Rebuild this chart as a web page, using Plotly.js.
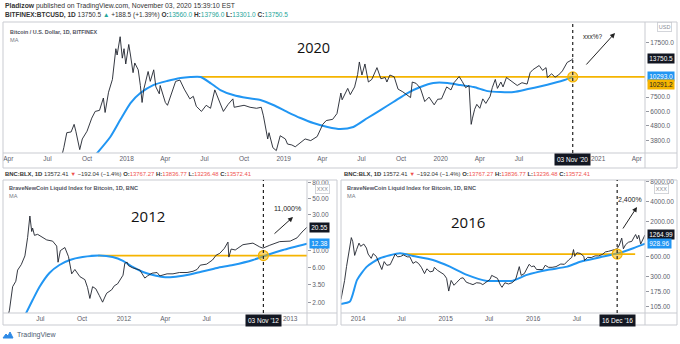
<!DOCTYPE html>
<html><head><meta charset="utf-8">
<script src="https://cdn.plot.ly/plotly-3.0.1.min.js"></script>
<style>html,body{margin:0;padding:0;background:#fff}#chart{width:680px;height:344px}</style>
</head><body><div id="chart"></div>
<script>
// ---------- DATA ----------
const btcDates = ['2017-07-20','2017-08-01','2017-08-08','2017-08-15','2017-08-25','2017-09-01','2017-09-05','2017-09-14','2017-09-20','2017-10-01','2017-10-12','2017-10-20','2017-10-30','2017-11-08','2017-11-12','2017-11-20','2017-11-29','2017-12-07','2017-12-10','2017-12-17','2017-12-22','2017-12-26','2017-12-30','2018-01-06','2018-01-10','2018-01-16','2018-01-20','2018-01-28','2018-02-02','2018-02-06','2018-02-10','2018-02-20','2018-02-25','2018-03-05','2018-03-10','2018-03-18','2018-03-20','2018-04-01','2018-04-06','2018-04-15','2018-04-25','2018-05-05','2018-05-15','2018-05-28','2018-06-05','2018-06-12','2018-06-24','2018-07-05','2018-07-15','2018-07-25','2018-08-05','2018-08-14','2018-08-25','2018-09-05','2018-09-08','2018-09-20','2018-10-01','2018-10-15','2018-10-30','2018-11-10','2018-11-15','2018-11-25','2018-11-28','2018-12-07','2018-12-15','2018-12-24','2019-01-05','2019-01-10','2019-01-20','2019-01-28','2019-02-08','2019-02-20','2019-03-05','2019-03-20','2019-04-02','2019-04-10','2019-04-25','2019-05-05','2019-05-14','2019-05-17','2019-05-30','2019-06-05','2019-06-15','2019-06-22','2019-06-26','2019-07-02','2019-07-09','2019-07-17','2019-07-25','2019-08-06','2019-08-15','2019-08-25','2019-08-29','2019-09-05','2019-09-15','2019-09-24','2019-10-05','2019-10-23','2019-10-27','2019-11-05','2019-11-15','2019-11-25','2019-12-05','2019-12-17','2019-12-25','2020-01-03','2020-01-15','2020-01-25','2020-02-01','2020-02-13','2020-02-20','2020-02-28','2020-03-07','2020-03-12','2020-03-15','2020-03-20','2020-03-25','2020-04-01','2020-04-08','2020-04-15','2020-04-25','2020-04-30','2020-05-07','2020-05-12','2020-05-20','2020-05-25','2020-06-02','2020-06-10','2020-06-20','2020-06-27','2020-07-08','2020-07-20','2020-07-27','2020-08-02','2020-08-17','2020-08-25','2020-09-02','2020-09-05','2020-09-15','2020-09-23','2020-10-01','2020-10-10','2020-10-21','2020-10-25','2020-10-28','2020-11-02','2020-11-03'];
const btcClose = [2300,2800,3400,4300,4350,4900,4400,3300,3900,4400,5400,6000,6100,7400,5900,8100,9900,16000,14500,19300,13800,16000,12600,17100,14500,11000,12800,11500,9000,6900,8500,11200,9600,11500,8800,7900,9000,6900,6600,8000,9600,9800,8500,7300,7600,6500,6000,6600,6300,8400,7000,6000,6700,7300,6400,6500,6600,6400,6300,6400,5600,3900,4300,3400,3250,4100,3900,3600,3550,3450,3650,3900,3800,4050,4900,5200,5300,5800,8000,7200,8600,7800,8800,10700,13000,10600,12600,9500,9900,11900,10000,10200,9500,10600,10300,8500,8150,7450,9500,9300,8600,7000,7500,6650,7250,7300,8800,8400,9400,10350,9600,8700,9000,4900,5400,6200,6700,6300,7300,6800,7600,8700,9900,8600,9500,8800,10200,9800,9300,9000,9400,9200,11000,11500,12300,11400,11900,10200,10800,10250,10600,11300,12900,13100,13400,13500,13750.5];
const btcMaDates = ['2017-10-15','2017-11-24','2017-12-17','2018-01-10','2018-02-02','2018-03-04','2018-04-05','2018-05-06','2018-05-29','2018-06-22','2018-07-15','2018-08-07','2018-09-06','2018-10-09','2018-11-08','2018-12-08','2019-01-10','2019-02-09','2019-03-11','2019-04-13','2019-05-13','2019-06-12','2019-07-15','2019-08-14','2019-09-13','2019-10-16','2019-11-15','2019-12-15','2020-01-17','2020-02-16','2020-03-18','2020-04-19','2020-05-19','2020-06-19','2020-07-22','2020-08-21','2020-09-20','2020-10-15','2020-11-03'];
const btcMa = [2900,4020,5240,6840,8000,9060,9650,10120,10280,10280,9350,8380,7750,7390,7170,6630,5940,5410,5000,4700,4550,4700,5410,6130,6950,8000,8790,9360,9360,9060,8790,8240,8120,8120,8510,8900,9350,9800,10293];
const btcLevelDates = ['2018-06-21','2021-04-20'];
const btcLevel = 10291.2;
const btcMarkDate = '2020-11-03';

const b12Dates = ['2011-04-15','2011-04-24','2011-05-01','2011-05-08','2011-05-12','2011-05-20','2011-05-28','2011-06-03','2011-06-08','2011-06-10','2011-06-12','2011-06-14','2011-06-18','2011-06-25','2011-07-05','2011-07-15','2011-07-28','2011-08-06','2011-08-09','2011-08-14','2011-08-24','2011-09-01','2011-09-08','2011-09-15','2011-09-26','2011-10-07','2011-10-13','2011-10-18','2011-10-24','2011-10-31','2011-11-08','2011-11-15','2011-11-20','2011-11-24','2011-12-05','2011-12-11','2011-12-18','2011-12-22','2011-12-30','2012-01-03','2012-01-08','2012-01-11','2012-01-20','2012-02-05','2012-02-16','2012-02-22','2012-03-03','2012-03-14','2012-03-20','2012-04-05','2012-04-18','2012-05-02','2012-05-19','2012-06-01','2012-06-10','2012-06-17','2012-07-01','2012-07-14','2012-07-22','2012-07-30','2012-08-09','2012-08-17','2012-08-19','2012-08-24','2012-09-02','2012-09-19','2012-10-11','2012-10-26','2012-11-02','2012-11-17','2012-12-09','2013-01-01','2013-01-16','2013-01-27','2013-02-07'];
const b12Close = [1.0,1.6,3.3,3.9,5.5,6.5,8.5,15,29,22,18,20,16,16.5,15,13.9,13.4,11.5,7.0,10.0,11.0,8.3,4.9,5.6,4.5,4.1,3.2,2.3,3.3,3.1,2.5,2.05,2.4,2.7,3.0,3.4,3.6,4.0,4.7,6.8,7.0,6.3,5.9,5.5,4.3,4.6,5.0,5.1,4.6,4.9,4.9,5.1,5.1,5.3,5.6,6.4,6.6,7.5,8.7,9.2,10.7,13.0,8.2,10.5,10.2,12.0,12.6,11.2,10.8,11.8,13.2,13.4,14.8,17.7,20.55];
const b12MaDates = ['2011-05-25','2011-06-14','2011-06-29','2011-07-21','2011-08-12','2011-09-04','2011-10-02','2011-11-08','2011-12-07','2011-12-30','2012-01-20','2012-02-12','2012-03-05','2012-03-27','2012-04-18','2012-05-19','2012-06-17','2012-07-24','2012-08-28','2012-10-11','2012-11-11','2012-12-16','2013-02-07'];
const b12Ma = [1.25,2.19,3.27,5.03,6.43,7.5,8.2,8.6,8.2,7.28,6.05,5.19,4.73,4.45,4.45,4.73,5.19,5.87,6.43,7.5,8.75,10.2,12.38];
const b12LevelDates = ['2011-11-05','2013-02-07'];
const b12Level = 8.6;
const b12MarkDate = '2012-11-03';

const b16Dates = ['2013-10-22','2013-10-30','2013-11-06','2013-11-14','2013-11-20','2013-11-28','2013-12-04','2013-12-10','2013-12-18','2013-12-26','2014-01-05','2014-01-12','2014-01-25','2014-02-05','2014-02-12','2014-02-25','2014-03-05','2014-03-18','2014-03-30','2014-04-10','2014-04-20','2014-05-01','2014-05-15','2014-05-28','2014-06-05','2014-06-15','2014-06-28','2014-07-10','2014-07-25','2014-08-05','2014-08-18','2014-08-30','2014-09-10','2014-09-22','2014-10-05','2014-10-15','2014-10-28','2014-11-10','2014-11-15','2014-11-28','2014-12-10','2014-12-25','2015-01-05','2015-01-14','2015-01-24','2015-02-05','2015-02-15','2015-03-05','2015-03-15','2015-03-28','2015-04-10','2015-04-25','2015-05-10','2015-05-25','2015-06-05','2015-06-20','2015-07-05','2015-07-12','2015-07-25','2015-08-05','2015-08-18','2015-08-24','2015-09-05','2015-09-20','2015-10-05','2015-10-20','2015-11-04','2015-11-12','2015-11-25','2015-12-05','2015-12-15','2015-12-25','2016-01-05','2016-01-15','2016-01-28','2016-02-10','2016-02-20','2016-03-05','2016-03-20','2016-04-05','2016-04-25','2016-05-10','2016-05-28','2016-06-10','2016-06-17','2016-06-22','2016-07-01','2016-07-15','2016-07-30','2016-08-02','2016-08-15','2016-08-30','2016-09-15','2016-09-30','2016-10-15','2016-10-28','2016-11-10','2016-11-25','2016-12-10','2016-12-16','2016-12-25','2017-01-04','2017-01-11','2017-01-20','2017-02-01','2017-02-15','2017-02-25','2017-03-03','2017-03-10','2017-03-16','2017-03-24','2017-04-01','2017-04-11'];
const b16Close = [135,190,260,420,560,780,1150,1000,620,760,950,850,920,800,650,560,660,600,460,380,500,440,450,590,650,590,600,630,590,590,470,500,470,410,330,390,350,360,410,370,350,320,280,180,260,220,240,280,285,245,235,225,240,237,225,245,270,310,290,280,220,205,240,230,240,270,420,310,330,390,455,420,430,380,380,380,440,410,410,420,460,455,530,580,760,600,680,665,600,520,580,575,610,610,640,700,715,740,770,780,890,1130,780,900,980,1010,1180,1280,1100,1250,920,1080,1265];
const b16MaDates = ['2013-10-22','2013-11-28','2013-12-28','2014-02-07','2014-04-02','2014-06-25','2014-08-18','2014-11-09','2015-01-19','2015-03-31','2015-06-22','2015-08-15','2015-10-09','2015-12-06','2016-02-28','2016-05-22','2016-07-15','2016-10-06','2016-12-29','2017-02-21','2017-04-11'];
const b16Ma = [115,125,265,420,562,668,608,530,420,315,256,256,258,315,374,420,499,582,683,795,929];
const b16LevelDates = ['2014-07-03','2017-03-01'];
const b16Level = 650;
const b16MarkDate = '2016-12-16';

const topXTickVals = ['2017-04-01','2017-07-01','2017-10-01','2018-01-01','2018-04-01','2018-07-01','2018-10-01','2019-01-01','2019-04-01','2019-07-01','2019-10-01','2020-01-01','2020-04-01','2020-07-01','2021-01-01','2021-04-01'];
const topXTickText = ['Apr','Jul','Oct','2018','Apr','Jul','Oct','2019','Apr','Jul','Oct','2020','Apr','Jul','2021','Apr'];
const topYTicks = [3800,4800,6000,7500,17500];
const b12XTickVals = ['2011-07-01','2011-10-01','2012-01-01','2012-04-01','2012-07-01','2013-01-01'];
const b12XTickText = ['Jul','Oct','2012','Apr','Jul','2013'];
const b12YTicks = [2,3.5,6,10,30,50,80];
const b16XTickVals = ['2014-01-01','2014-07-01','2015-01-01','2015-07-01','2016-01-01','2016-07-01'];
const b16XTickText = ['2014','Jul','2015','Jul','2016','Jul'];
const b16YTicks = [105,175,300,600,2000,4000,8000];

// ---------- STYLE / LAYOUT ----------
const W = 680, H = 344;
const px = v => v / W, py = v => 1 - v / H;
const L10 = Math.log10;
const FONT = 'Liberation Sans, Arial, sans-serif';
const PRICE = '#1e222d', BLUE = '#2196f3', GOLD = '#f5b400';

function priceTrace(x, y, xa, ya) { return {type:'scatter', mode:'lines', x, y, xaxis:xa, yaxis:ya, line:{color:PRICE, width:0.9}, hoverinfo:'skip'}; }
function maTrace(x, y, xa, ya) { return {type:'scatter', mode:'lines', x, y, xaxis:xa, yaxis:ya, line:{color:BLUE, width:2, shape:'spline', smoothing:0.6}, hoverinfo:'skip'}; }
function levelTrace(x, v, xa, ya) { return {type:'scatter', mode:'lines', x, y:[v, v], xaxis:xa, yaxis:ya, line:{color:GOLD, width:1.8}, hoverinfo:'skip'}; }
function markTrace(d, v, xa, ya) { return {type:'scatter', mode:'markers', x:[d], y:[v], xaxis:xa, yaxis:ya, marker:{size:10, color:'rgba(245,180,0,0.55)', line:{color:GOLD, width:1.2}}, hoverinfo:'skip', cliponaxis:false}; }

const data = [
  levelTrace(btcLevelDates, btcLevel, 'x', 'y'),
  maTrace(btcMaDates, btcMa, 'x', 'y'),
  priceTrace(btcDates, btcClose, 'x', 'y'),
  markTrace(btcMarkDate, btcLevel, 'x', 'y'),
  levelTrace(b12LevelDates, b12Level, 'x2', 'y2'),
  maTrace(b12MaDates, b12Ma, 'x2', 'y2'),
  priceTrace(b12Dates, b12Close, 'x2', 'y2'),
  markTrace(b12MarkDate, b12Level, 'x2', 'y2'),
  levelTrace(b16LevelDates, b16Level, 'x3', 'y3'),
  maTrace(b16MaDates, b16Ma, 'x3', 'y3'),
  priceTrace(b16Dates, b16Close, 'x3', 'y3'),
  markTrace(b16MarkDate, b16Level, 'x3', 'y3'),
];

const tickFont = {family:FONT, size:6.5, color:'#5d606b'};
function xAxis(dom, range, tv, tt, anchor) {
  return {domain:dom, range, type:'date', anchor, tickvals:tv, ticktext:tt, tickfont:tickFont, showgrid:false, zeroline:false, showline:false, ticks:'', fixedrange:true};
}
function yAxis(dom, range, vals, dec, anchor) {
  return {domain:dom, range, type:'log', anchor, side:'right', tickvals:vals, ticktext:vals.map(v => v.toFixed(dec)), tickfont:tickFont, showgrid:false, zeroline:false, showline:false, ticks:'outside', ticklen:3, tickcolor:'#9598a1', fixedrange:true};
}

const layout = {
  width:W, height:H, margin:{l:0, r:0, t:0, b:0}, paper_bgcolor:'#fff', plot_bgcolor:'#fff', showlegend:false,
  xaxis: xAxis([px(4), px(645)], ['2017-03-22','2021-04-20'], topXTickVals, topXTickText, 'y'),
  yaxis: yAxis([py(153), py(22)], [L10(3130), L10(24300)], topYTicks, 1, 'x'),
  xaxis2: xAxis([px(4), px(307)], ['2011-04-12','2013-02-07'], b12XTickVals, b12XTickText, 'y2'),
  yaxis2: yAxis([py(313), py(180)], [L10(1.47), L10(87.7)], b12YTicks, 2, 'x2'),
  xaxis3: xAxis([px(341), px(645)], ['2013-10-22','2017-04-11'], b16XTickVals, b16XTickText, 'y3'),
  yaxis3: yAxis([py(313), py(180)], [L10(84), L10(8500)], b16YTicks, 2, 'x3'),
  shapes: [],
  annotations: []
};

const BORDER = '#c9cbd1';
function paperLine(x0, y0, x1, y1) { layout.shapes.push({type:'line', xref:'paper', yref:'paper', x0:px(x0), y0:py(y0), x1:px(x1), y1:py(y1), line:{color:BORDER, width:1}}); }
function panel(x0, y0, x1, y1, sepX, axisY) {
  layout.shapes.push({type:'rect', xref:'paper', yref:'paper', x0:px(x0), y0:py(y1), x1:px(x1), y1:py(y0), line:{color:BORDER, width:1}});
  paperLine(sepX, y0, sepX, y1);
  paperLine(x0, axisY, x1, axisY);
}
panel(3, 22, 677, 168, 645, 153);
panel(3, 180, 337, 325, 307, 313);
panel(341, 180, 677, 325, 645, 313);

// vertical dotted markers
[['x','y',btcMarkDate],['x2','y2',b12MarkDate],['x3','y3',b16MarkDate]].forEach(([xa, ya, d]) => {
  layout.shapes.push({type:'line', xref:xa, yref:ya + ' domain', x0:d, x1:d, y0:0, y1:1, line:{color:'#222', width:1.2, dash:'dot'}});
});

// TradingView logo icon
layout.shapes.push({type:'path', xref:'paper', yref:'paper',
  path:`M ${px(3)} ${py(338)} L ${px(6)} ${py(334)} L ${px(8)} ${py(336)} L ${px(10)} ${py(332)} L ${px(13)} ${py(338)} Z`,
  fillcolor:'#2e8ae6', line:{color:'#2e8ae6', width:1}});

const A = layout.annotations;
function txt(x, y, text, size, color, opts) {
  A.push(Object.assign({xref:'paper', yref:'paper', x:px(x), y:py(y), text, showarrow:false, xanchor:'left', yanchor:'middle', font:{family:FONT, size, color}}, opts || {}));
}
// headers
txt(3, 5.5, '<b>Pladizow</b> published on TradingView.com, November 03, 2020 15:39:10 EST', 6.8, '#333');
const G = '#26a69a', R = '#ef5350';
txt(3, 15, `<b>BITFINEX:BTCUSD, 1D</b> 13750.5 <span style="color:${G}">▲</span> +188.5 (+1.39%) <b>O:</b><span style="color:${G}">13560.0</span> <b>H:</b><span style="color:${G}">13796.0</span> <b>L:</b><span style="color:${G}">13301.0</span> <b>C:</b><span style="color:${G}">13750.5</span>`, 6.5, '#333');
const blxHead = `<b>BNC:BLX, 1D</b> 13572.41 <span style="color:${R}">▼</span> −192.04 (−1.4%) <b>O:</b><span style="color:${R}">13767.27</span> <b>H:</b><span style="color:${R}">13836.77</span> <b>L:</b><span style="color:${R}">13236.48</span> <b>C:</b><span style="color:${R}">13572.41</span>`;
txt(3, 174, blxHead, 5.9, '#333');
txt(342, 174, blxHead, 5.9, '#333');
// legends
txt(8, 32, '<b>Bitcoin / U.S. Dollar, 1D, BITFINEX</b>', 5.4, '#50535e');
txt(8, 40, 'MA', 5.6, '#787b86');
txt(7, 188, '<b>BraveNewCoin Liquid Index for Bitcoin, 1D, BNC</b>', 5.6, '#50535e');
txt(7, 196, 'MA', 5.6, '#787b86');
txt(345, 188, '<b>BraveNewCoin Liquid Index for Bitcoin, 1D, BNC</b>', 5.6, '#50535e');
txt(345, 196, 'MA', 5.6, '#787b86');
// big year labels
const BIG = 'Open Sans, Noto Sans, sans-serif';
txt(313, 47, '2020', 14.5, '#111', {xanchor:'center', font:{family:BIG, size:14.5, color:'#111'}});
txt(148, 216, '2012', 15, '#111', {xanchor:'center', font:{family:BIG, size:15, color:'#111'}});
txt(468, 222, '2016', 15, '#111', {xanchor:'center', font:{family:BIG, size:15, color:'#111'}});
// percentage notes
txt(593, 37, 'xxx%?', 6.5, '#222', {xanchor:'center'});
txt(287, 208, '11,000%', 7, '#222', {xanchor:'center'});
txt(630, 199, '2,400%', 7, '#222', {xanchor:'center'});
function arrow(hx, hy, tx, ty) {
  A.push({xref:'paper', yref:'paper', x:px(hx), y:py(hy), ax:tx - hx, ay:ty - hy, text:'', showarrow:true, arrowhead:2, arrowsize:1, arrowwidth:1, arrowcolor:'#222'});
}
arrow(615, 33, 585, 66);
arrow(293, 217, 273, 235);
arrow(637, 207, 622, 230);
// TradingView logo text
txt(15, 335, 'TradingView', 7, '#4b5a70');

// price labels on the right axes
function priceBox(ax, val, text, bg, fg, x, yshift) {
  A.push({xref:'paper', yref:ax, x:px(x), y:L10(val), text, showarrow:false, xanchor:'left', yanchor:'middle', bgcolor:bg, borderpad:1.2, yshift:yshift || 0, font:{family:FONT, size:6.5, color:fg}});
}
priceBox('y', btcClose[btcClose.length - 1], btcClose[btcClose.length - 1].toFixed(1), '#131722', '#fff', 647);
priceBox('y', btcMa[btcMa.length - 1], btcMa[btcMa.length - 1].toFixed(1), BLUE, '#fff', 647);
priceBox('y', btcLevel, btcLevel.toFixed(1), GOLD, '#222', 647, -8);
priceBox('y2', b12Close[b12Close.length - 1], b12Close[b12Close.length - 1].toFixed(2), '#131722', '#fff', 309);
priceBox('y2', b12Ma[b12Ma.length - 1], b12Ma[b12Ma.length - 1].toFixed(2), BLUE, '#fff', 309);
priceBox('y3', 1264.99, '1264.99', '#131722', '#fff', 647);
priceBox('y3', 928.96, '928.96', BLUE, '#fff', 647);
// small scale buttons
function btn(x, y, t) { txt(x, y, t, 5.5, '#8a8d96', {xanchor:'center', bgcolor:'#fff', bordercolor:'#c9cbd1', borderwidth:0.8, borderpad:1}); }
btn(664, 27, 'USD');
btn(322, 189, 'XXX');
btn(661, 189, 'XXX');
// date labels on x axes
function dateBox(xa, d, text, y) {
  A.push({xref:xa, yref:'paper', x:d, y:py(y), text, showarrow:false, xanchor:'center', yanchor:'middle', bgcolor:'#131722', borderpad:2, font:{family:FONT, size:6.5, color:'#fff'}});
}
dateBox('x', btcMarkDate, "03 Nov '20", 160);
dateBox('x2', b12MarkDate, "03 Nov '12", 320);
dateBox('x3', b16MarkDate, "16 Dec '16", 320);

Plotly.newPlot('chart', data, layout, {displayModeBar:false, staticPlot:true});
</script></body></html>
